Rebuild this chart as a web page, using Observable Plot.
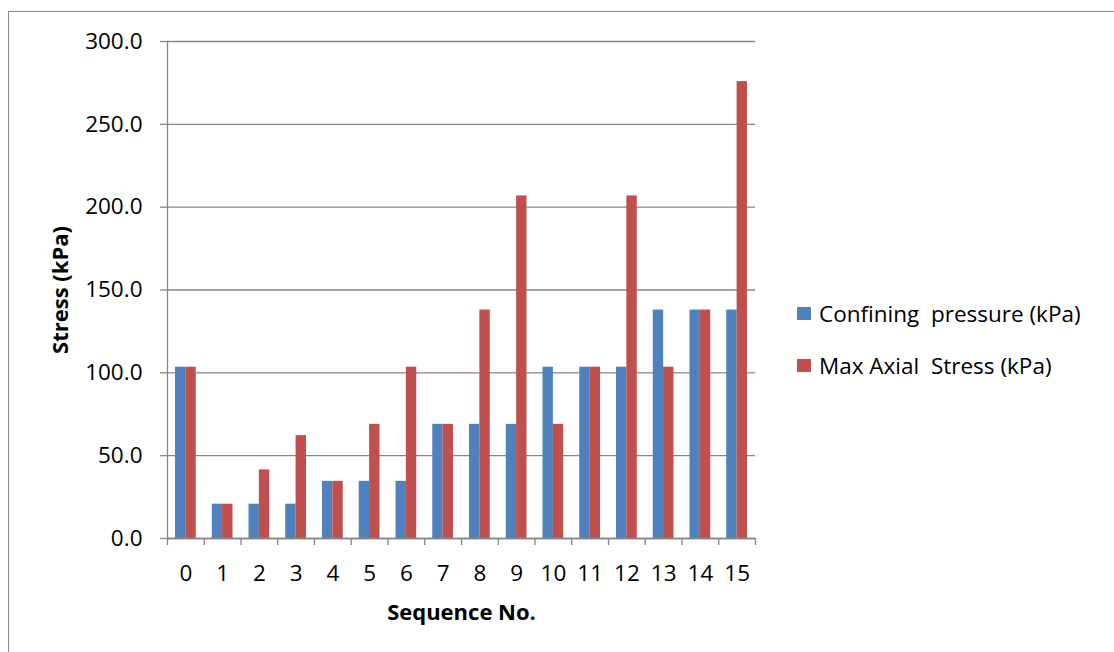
<!DOCTYPE html>
<html>
<head>
<meta charset="utf-8">
<script src="https://cdn.jsdelivr.net/npm/d3@7"></script>
<script src="https://cdn.jsdelivr.net/npm/@observablehq/plot@0.6"></script>
<style>
  html, body { margin: 0; padding: 0; background: #fff; }
  #wrap { position: relative; width: 1114px; height: 652px; overflow: hidden; font-family: "Open Sans", Lato, sans-serif; }
  #border { position: absolute; left: 8px; top: 11px; width: 1120px; height: 660px; border: 1px solid #8a8a8a; box-sizing: border-box; }
  #chart { position: absolute; left: 0; top: 0; }
  #legend { position: absolute; left: 797px; top: 287px; font-size: 22.5px; color: #000; }
  .item { display: flex; align-items: center; height: 52px; white-space: pre; }
  .sw { width: 14px; height: 13px; margin-right: 8px; }
</style>
</head>
<body>
<div id="wrap">
  <div id="border"></div>
  <div id="chart"></div>
  <div id="legend"></div>
</div>
<script>
const sequences = [0, 1, 2, 3, 4, 5, 6, 7, 8, 9, 10, 11, 12, 13, 14, 15];
const confiningPressure = [103.4, 20.7, 20.7, 20.7, 34.5, 34.5, 34.5, 68.9, 68.9, 68.9, 103.4, 103.4, 103.4, 137.9, 137.9, 137.9];
const maxAxialStress = [103.4, 20.7, 41.4, 62.1, 34.5, 68.9, 103.4, 68.9, 137.9, 206.8, 68.9, 103.4, 206.8, 103.4, 137.9, 275.8];
const yTicks = [0, 50, 100, 150, 200, 250, 300];
const seriesNames = ["Confining  pressure (kPa)", "Max Axial  Stress (kPa)"];
const seriesColors = ["#4F81BD", "#C0504D"];

const W = 1114, H = 652;
const mL = 167, mR = 359, mT = 41, mB = 114;
const step = (W - mL - mR) / sequences.length;
const outer = 8, barW = 10.4;
const gray = "#868686";
const font = "'Open Sans', Lato, sans-serif";

const chart = Plot.plot({
  width: W, height: H,
  marginLeft: mL, marginRight: mR, marginTop: mT, marginBottom: mB,
  style: { fontFamily: font, background: "transparent", color: "#000" },
  x: { domain: sequences, padding: 0, round: false, label: null },
  y: { domain: [0, 300], label: null },
  marks: [
    Plot.gridY(yTicks, { stroke: gray, strokeOpacity: 1, strokeWidth: 1.3 }),
    Plot.barY(sequences, { x: d => d, y: (d, i) => confiningPressure[i], fill: seriesColors[0], insetLeft: outer, insetRight: step - outer - barW }),
    Plot.barY(sequences, { x: d => d, y: (d, i) => maxAxialStress[i], fill: seriesColors[1], insetLeft: step - outer - barW, insetRight: outer }),
    Plot.frame({ anchor: "left", stroke: gray, strokeWidth: 1.3 }),
    Plot.ruleY([0], { stroke: gray, strokeWidth: 1.3 }),
    Plot.axisY(yTicks, { tickSize: 7, tickPadding: 18, tickFormat: d => d.toFixed(1), fontSize: 22.5, stroke: gray, strokeWidth: 1.3, fill: "#000", label: null }),
    Plot.axisX(sequences, { tickSize: 0, tickPadding: 27, fontSize: 22.5, fill: "#000", label: null }),
    Plot.axisX(sequences, { tickSize: 7, tickFormat: () => "", dx: -step / 2, stroke: gray, strokeWidth: 1.3, label: null }),
    Plot.axisX([sequences[sequences.length - 1]], { tickSize: 7, tickFormat: () => "", dx: step / 2, stroke: gray, strokeWidth: 1.3, label: null }),
    Plot.text(["Stress (kPa)"], { frameAnchor: "left", textAnchor: "middle", lineAnchor: "middle", rotate: -90, dx: -107, fontSize: 22, fontWeight: "bold", fill: "#000" }),
    Plot.text(["Sequence No."], { frameAnchor: "bottom", textAnchor: "middle", dy: 81, fontSize: 22, fontWeight: "bold", fill: "#000" })
  ]
});
document.getElementById("chart").appendChild(chart);

const legend = document.getElementById("legend");
seriesNames.forEach((name, i) => {
  const item = document.createElement("div");
  item.className = "item";
  const sw = document.createElement("div");
  sw.className = "sw";
  sw.style.background = seriesColors[i];
  const t = document.createElement("span");
  t.textContent = name;
  item.appendChild(sw);
  item.appendChild(t);
  legend.appendChild(item);
});
</script>
</body>
</html>
